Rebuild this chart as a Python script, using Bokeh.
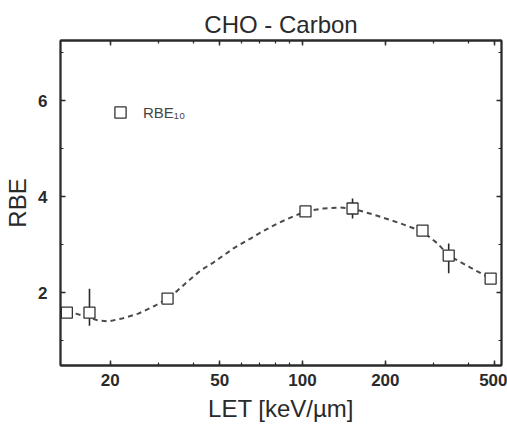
from bokeh.plotting import figure
from bokeh.models import (LogAxis, LinearAxis, FixedTicker, CustomJSTickFormatter,
                          Legend, LegendItem, ColumnDataSource)
from bokeh.embed import file_html
from bokeh.resources import INLINE

# ---- data ----
let_pts = [13.9, 16.8, 32.3, 102.5, 152, 273, 340, 483]
rbe_pts = [1.58, 1.58, 1.875, 3.69, 3.75, 3.29, 2.77, 2.29]

err_let = [16.8, 152, 340]
err_lo = [1.31, 3.54, 2.40]
err_hi = [2.08, 3.96, 3.02]

fit_let = [13.9, 15.0, 16.8, 18.0, 19.7, 22.1, 25.3, 29.2, 32.3, 35.1, 38.2, 42.6,
           47.4, 56.1, 64.7, 70.3, 81.1, 90.4, 102.5, 119, 137, 152, 187, 227,
           273, 310, 340, 408, 483]
fit_rbe = [1.60, 1.56, 1.48, 1.42, 1.40, 1.46, 1.56, 1.73, 1.875, 2.04, 2.23, 2.46,
           2.625, 2.92, 3.125, 3.25, 3.44, 3.56, 3.69, 3.75, 3.77, 3.75, 3.60, 3.44,
           3.27, 3.02, 2.77, 2.52, 2.29]

x_ticks = [20, 50, 100, 200, 500]
x_minor = [20, 30, 40, 50, 60, 70, 80, 90, 100, 200, 300, 400, 500]
y_ticks = [2, 4, 6]
y_minor = [1, 3, 5, 7]

title_text = "CHO - Carbon"
x_label = "LET [keV/µm]"
y_label = "RBE"
legend_label = "RBE₁₀"

INK = "#2a2a2a"

p = figure(width=507, height=428, x_axis_type="log",
           x_range=(13.18, 529), y_range=(0.48, 7.25),
           output_backend="svg", toolbar_location=None,
           min_border_left=60, min_border_right=6,
           min_border_top=40, min_border_bottom=63,
           title=title_text)
p.xgrid.visible = False
p.ygrid.visible = False
p.outline_line_color = INK
p.outline_line_width = 1.8
p.background_fill_color = "white"
p.border_fill_color = "white"

p.title.align = "center"
p.title.text_font = "Liberation Sans"
p.title.text_font_style = "normal"
p.title.text_font_size = "24px"
p.title.text_color = INK
p.title.standoff = 5

def style_axis(ax, labels=True):
    ax.axis_line_color = INK
    ax.axis_line_width = 1.8
    ax.major_tick_in = 5
    ax.major_tick_out = 0
    ax.minor_tick_in = 3
    ax.minor_tick_out = 0
    ax.major_tick_line_color = INK
    ax.minor_tick_line_color = INK
    ax.major_tick_line_width = 1.5
    ax.minor_tick_line_width = 1.2
    ax.major_label_text_font = "Liberation Sans"
    ax.major_label_text_font_style = "bold"
    ax.major_label_text_font_size = "17px"
    ax.major_label_text_color = INK
    ax.axis_label_text_font = "Liberation Sans"
    ax.axis_label_text_font_style = "normal"
    ax.axis_label_text_font_size = "24px"
    ax.axis_label_text_color = INK
    if not labels:
        ax.formatter = CustomJSTickFormatter(code="return ''")
        ax.major_label_standoff = 0

xa = p.xaxis[0]
xa.ticker = FixedTicker(ticks=x_ticks, minor_ticks=x_minor)
style_axis(xa)
xa.major_label_standoff = 8
xa.axis_label = x_label
xa.axis_label_standoff = 6

ya = p.yaxis[0]
ya.ticker = FixedTicker(ticks=y_ticks, minor_ticks=y_minor)
style_axis(ya)
ya.major_label_standoff = 13
ya.axis_label = y_label
ya.axis_label_standoff = 4

top = LogAxis(ticker=FixedTicker(ticks=x_ticks, minor_ticks=x_minor))
style_axis(top, labels=False)
p.add_layout(top, "above")
right = LinearAxis(ticker=FixedTicker(ticks=y_ticks, minor_ticks=y_minor))
style_axis(right, labels=False)
p.add_layout(right, "right")

# fit curve
p.line(fit_let, fit_rbe, line_color="#4a4a4a", line_width=2, line_dash="5 4")

# error bars
p.segment(x0=err_let, y0=err_lo, x1=err_let, y1=err_hi,
          line_color=INK, line_width=1.6)

# data squares
src = ColumnDataSource(dict(x=let_pts, y=rbe_pts))
sq = p.scatter("x", "y", source=src, marker="square", size=11,
               fill_color="white", line_color="#333333", line_width=1.3)

leg = Legend(items=[LegendItem(label=legend_label, renderers=[sq])],
             location="top_left", margin=46, padding=20,
             glyph_width=28, glyph_height=52, label_standoff=9,
             border_line_color=None, background_fill_alpha=0,
             label_text_font="Liberation Sans", label_text_font_size="15px",
             label_text_color="#444444")
p.add_layout(leg)

open("out.html", "w").write(file_html(p, INLINE))
